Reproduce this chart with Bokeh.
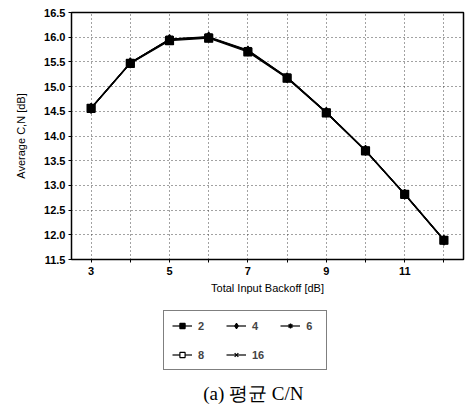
from bokeh.plotting import figure
from bokeh.models import Legend, LegendItem, FixedTicker, Label, NumeralTickFormatter
from bokeh.layouts import column
from bokeh.embed import file_html
from bokeh.resources import INLINE

backoff = [3, 4, 5, 6, 7, 8, 9, 10, 11, 12]
cn_2 = [14.56, 15.47, 15.93, 15.98, 15.70, 15.17, 14.47, 13.70, 12.82, 11.89]
cn_4 = [14.56, 15.48, 15.95, 16.00, 15.72, 15.18, 14.48, 13.71, 12.82, 11.89]
cn_6 = [14.57, 15.48, 15.96, 16.00, 15.73, 15.19, 14.48, 13.71, 12.83, 11.90]
cn_8 = [14.56, 15.47, 15.95, 15.99, 15.72, 15.18, 14.47, 13.70, 12.82, 11.89]
cn_16 = [14.57, 15.48, 15.96, 16.01, 15.74, 15.19, 14.48, 13.71, 12.83, 11.90]
labels = ["2", "4", "6", "8", "16"]
x_ticks = [3, 4, 5, 6, 7, 8, 9, 10, 11, 12]
x_tick_labels = {3: "3", 4: "", 5: "5", 6: "", 7: "7", 8: "", 9: "9", 10: "", 11: "11", 12: ""}
y_ticks = [11.5, 12.0, 12.5, 13.0, 13.5, 14.0, 14.5, 15.0, 15.5, 16.0, 16.5]
caption = "(a) 평균 C/N"

p = figure(width=465, height=300, x_range=(2.5, 12.5), y_range=(11.5, 16.5),
           output_backend="svg", toolbar_location=None,
           min_border_left=71, min_border_right=2, min_border_top=12, min_border_bottom=41)
p.outline_line_color = "black"
p.outline_line_width = 1.5
p.background_fill_color = "white"
p.border_fill_color = "white"

for g in (p.xgrid, p.ygrid):
    g.grid_line_color = "#444444"
    g.grid_line_dash = "1 3"
    g.grid_line_width = 1
p.xgrid.ticker = FixedTicker(ticks=x_ticks)
p.ygrid.ticker = FixedTicker(ticks=y_ticks)

p.xaxis.ticker = FixedTicker(ticks=x_ticks)
p.xaxis.major_label_overrides = {k: v for k, v in x_tick_labels.items()}
p.yaxis.ticker = FixedTicker(ticks=y_ticks)
p.yaxis.formatter = NumeralTickFormatter(format="0.0")

for ax in (p.xaxis, p.yaxis):
    ax.axis_line_color = "black"
    ax.major_tick_line_color = "black"
    ax.major_tick_out = 3
    ax.major_tick_in = 0
    ax.minor_tick_line_color = None
    ax.major_label_text_font = "Liberation Sans"
    ax.major_label_text_font_style = "bold"
    ax.major_label_text_font_size = "11px"
    ax.major_label_text_color = "black"
    ax.axis_label_text_font = "Liberation Sans"
    ax.axis_label_text_font_style = "normal"
    ax.axis_label_text_font_size = "11px"
    ax.axis_label_text_color = "black"
p.xaxis.axis_label = "Total Input Backoff [dB]"
p.yaxis.axis_label = "Average C,N [dB]"
p.xaxis.major_label_standoff = 4
p.xaxis.axis_label_standoff = 4
p.yaxis.major_label_standoff = 3
p.yaxis.axis_label_standoff = 14

p2 = figure(width=465, height=115, x_range=(0, 1), y_range=(0, 1),
            output_backend="svg", toolbar_location=None,
            min_border_left=0, min_border_right=0, min_border_top=0, min_border_bottom=0)
p2.axis.visible = False
p2.grid.visible = False
p2.outline_line_color = None
p2.background_fill_color = "white"
p2.border_fill_color = "white"

styles = {
    "2": ("square", "black", 8),
    "4": ("diamond", "black", 10),
    "6": ("asterisk", "black", 8),
    "8": ("square", "white", 7),
    "16": ("x", "black", 8),
}
data = {"2": cn_2, "4": cn_4, "6": cn_6, "8": cn_8, "16": cn_16}
draw_order = ["4", "6", "8", "16", "2"]
for lab in draw_order:
    marker, fill, size = styles[lab]
    p.line(backoff, data[lab], line_color="black", line_width=1.2)
    p.scatter(backoff, data[lab], marker=marker, size=size, line_color="black",
              fill_color=fill, line_width=1.2)

items = []
for lab in labels:
    marker, fill, size = styles[lab]
    l = p2.line(backoff, data[lab], line_color="black", line_width=1.2, visible=False)
    s = p2.scatter(backoff, data[lab], marker=marker, size=size, line_color="black",
                   fill_color=fill, line_width=1.2, visible=False)
    items.append(LegendItem(label=lab, renderers=[l, s]))

legend = Legend(items=items, orientation="horizontal", ncols=3, location=(92, 45),
                border_line_color="black", border_line_width=1,
                label_text_font="Liberation Sans", label_text_font_style="bold",
                label_text_font_size="11px", glyph_width=20, glyph_height=13,
                label_standoff=6, spacing=16, padding=8, margin=0,
                label_height=13, label_width=12, inactive_fill_alpha=0)
p2.add_layout(legend, "center")

cap = Label(x=0.464, y=0.19, text=caption, text_align="center", text_baseline="middle",
            text_font="Liberation Serif", text_font_size="19px", text_color="black")
p2.add_layout(cap)

open("out.html", "w").write(file_html(column(p, p2, spacing=0), INLINE))
